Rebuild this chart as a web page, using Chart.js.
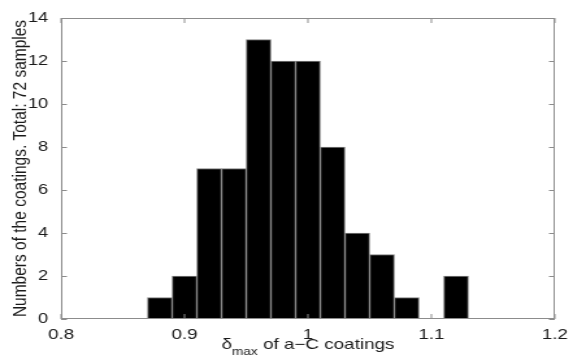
<!DOCTYPE html>
<html>
<head>
<meta charset="utf-8">
<script src="https://cdn.jsdelivr.net/npm/chart.js@4.4.1/dist/chart.umd.min.js"></script>
<style>
  html, body { margin: 0; padding: 0; background: #fff; }
  /* the source figure is stretched horizontally, so the canvas is drawn narrow and scaled up */
  #hist { display: block; width: 573px; height: 356px; }
</style>
</head>
<body>
<canvas id="hist" width="441" height="356" style="width:573px;height:356px"></canvas>
<script>
// histogram bins (left edge) and counts
const binStarts = [0.87, 0.89, 0.91, 0.93, 0.95, 0.97, 0.99, 1.01, 1.03, 1.05, 1.07, 1.09, 1.11];
const counts = [1, 2, 7, 7, 13, 12, 12, 8, 4, 3, 1, 0, 2];
const binWidth = 0.02;
const xTicks = [0.8, 0.9, 1.0, 1.1, 1.2];
const yTicks = [0, 2, 4, 6, 8, 10, 12, 14];
const yTitle = "Numbers of the coatings. Total: 72 samples";

const FONT = "Liberation Sans, Arial, Helvetica, sans-serif";

// matlab-like box with inward ticks + x title with subscript
const frame = {
  id: "frame",
  afterDraw(chart) {
    const { ctx, chartArea: a, scales } = chart;
    ctx.save();
    ctx.strokeStyle = "#8c8c8c";
    ctx.lineWidth = 1;
    ctx.strokeRect(a.left + 0.5, a.top + 0.5, a.right - a.left - 1, a.bottom - a.top - 1);
    ctx.beginPath();
    for (const v of xTicks) {
      const x = scales.x.getPixelForValue(v);
      ctx.moveTo(x, a.bottom); ctx.lineTo(x, a.bottom - 5);
      ctx.moveTo(x, a.top); ctx.lineTo(x, a.top + 5);
    }
    for (const v of yTicks) {
      const y = Math.round(scales.y.getPixelForValue(v)) + 0.5;
      ctx.moveTo(a.left, y); ctx.lineTo(a.left + 4.5, y);
      ctx.moveTo(a.right, y); ctx.lineTo(a.right - 4.5, y);
    }
    ctx.stroke();

    // x title: δ_max of a−C coatings
    const main = "14.5px " + FONT, sub = "10.5px " + FONT;
    const p1 = "\u03b4", p2 = "max", p3 = " of a\u2212C coatings";
    ctx.font = main; const w1 = ctx.measureText(p1).width, w3 = ctx.measureText(p3).width;
    ctx.font = sub; const w2 = ctx.measureText(p2).width;
    let x = (a.left + a.right) / 2 - (w1 + w2 + w3) / 2;
    const base = 349;
    ctx.fillStyle = "#1a1a1a";
    ctx.textBaseline = "alphabetic";
    ctx.textAlign = "left";
    ctx.font = main; ctx.fillText(p1, x, base); x += w1;
    ctx.font = sub; ctx.fillText(p2, x, base + 6); x += w2;
    ctx.font = main; ctx.fillText(p3, x, base);
    ctx.restore();
  },
};

new Chart(document.getElementById("hist"), {
  type: "bar",
  data: {
    datasets: [{
      data: binStarts.map((s, i) => ({ x: s + binWidth / 2, y: counts[i] })),
      backgroundColor: "#000",
      borderColor: "#808080",
      borderWidth: 1,
      borderSkipped: "bottom",
      barPercentage: 1,
      categoryPercentage: 1,
    }],
  },
  options: {
    responsive: false,
    animation: false,
    layout: { padding: { top: 18, right: 14, left: 0, bottom: 0 } },
    plugins: { legend: { display: false }, tooltip: { enabled: false } },
    scales: {
      x: {
        type: "linear",
        min: 0.8, max: 1.2,
        offset: false,
        afterBuildTicks: (s) => { s.ticks = xTicks.map((v) => ({ value: v })); },
        afterFit: (s) => { s.height = 37; },
        grid: { display: false },
        border: { display: false },
        ticks: {
          color: "#1a1a1a", font: { size: 14.5, family: FONT }, padding: -1, maxRotation: 0,
          callback: (v) => String(Math.round(v * 10) / 10),
        },
      },
      y: {
        min: 0, max: 14,
        afterBuildTicks: (s) => { s.ticks = yTicks.map((v) => ({ value: v })); },
        afterFit: (s) => { s.width = 47; },
        grid: { display: false },
        border: { display: false },
        ticks: { color: "#1a1a1a", font: { size: 14, family: FONT }, padding: 2 },
        title: { display: true, text: yTitle, color: "#1a1a1a", font: { size: 15.5, family: FONT }, padding: { top: 6, bottom: 0 } },
      },
    },
  },
  plugins: [frame],
});
</script>
</body>
</html>
